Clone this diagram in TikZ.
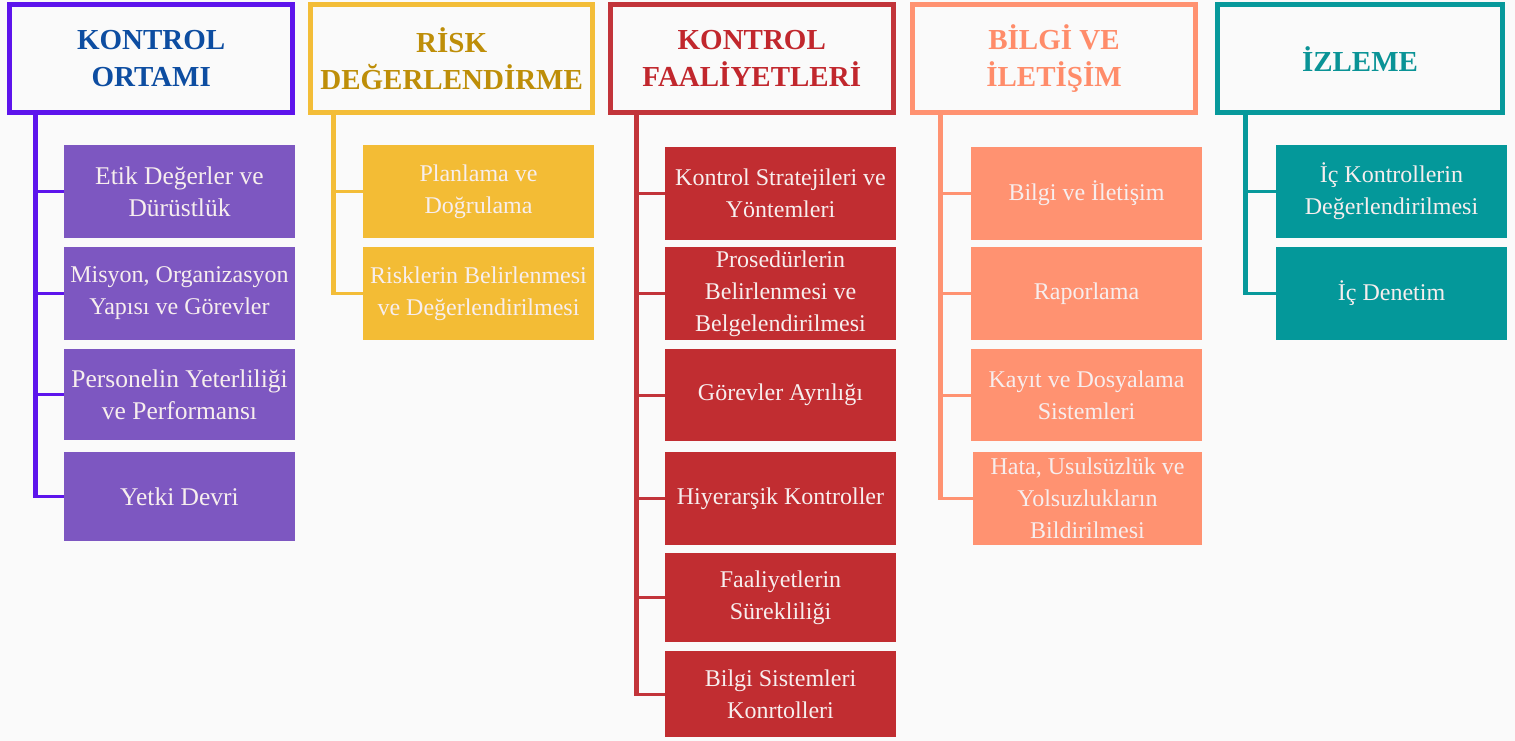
\documentclass[tikz,border=0pt]{standalone}
\usepackage{fontspec}
\setmainfont{Liberation Serif}
\definecolor{bg}{HTML}{FAFAFA}
\definecolor{pstroke}{HTML}{5D14EC}
\definecolor{ptext}{HTML}{0D4DA1}
\definecolor{pfill}{HTML}{7D57C1}
\definecolor{ystroke}{HTML}{F3BD38}
\definecolor{ytext}{HTML}{BE8E08}
\definecolor{yfill}{HTML}{F3BC35}
\definecolor{rstroke}{HTML}{C2343A}
\definecolor{rtext}{HTML}{C1272D}
\definecolor{rfill}{HTML}{C12D31}
\definecolor{sstroke}{HTML}{FF9271}
\definecolor{stext}{HTML}{FF8C6A}
\definecolor{sfill}{HTML}{FF9271}
\definecolor{tstroke}{HTML}{07999B}
\definecolor{ttext}{HTML}{0A9396}
\definecolor{tfill}{HTML}{04989A}
\definecolor{ctext}{HTML}{F7EEEE}
\tikzset{
  hdr/.style={draw, line width=5pt, fill=bg, inner sep=0pt, outer sep=0pt,
    align=center, font=\fontsize{29}{37}\selectfont\bfseries},
  child/.style={inner sep=0pt, outer sep=0pt, align=flush center, text=ctext,
    text width=231pt, font=\fontsize{24}{32}\selectfont},
  spine/.style={line width=5.5pt},
  conn/.style={line width=3pt}
}
\begin{document}
\begin{tikzpicture}[x=1pt,y=-1pt]
\fill[bg] (0,0) rectangle (1515,741);
\useasboundingbox (0,0) rectangle (1515,741);

% column 1
\node[hdr, draw=pstroke, text=ptext, minimum width=282.7pt, minimum height=107.5pt] (h1) at (151.15,58.75) {KONTROL\\ORTAMI};
\begin{scope}[every node/.style={child, fill=pfill, font=\fontsize{25.5}{32}\selectfont}]
\node[minimum height=93pt] (c11) at (179.5,191.5) {Etik Değerler ve\\Dürüstlük};
\node[minimum height=93pt, font=\fontsize{24}{32}\selectfont] (c12) at (179.5,293.5) {Misyon, Organizasyon\\Yapısı ve Görevler};
\node[minimum height=91pt] (c13) at (179.5,394.5) {Personelin Yeterliliği\\ve Performansı};
\node[minimum height=89pt] (c14) at (179.5,496.5) {Yetki Devri};
\end{scope}
\coordinate (s1) at (35.7,0);

% column 2
\node[hdr, draw=ystroke, text=ytext, minimum width=281.7pt, minimum height=107.5pt] (h2) at (451.65,58.75) {RİSK\\DEĞERLENDİRME};
\begin{scope}[every node/.style={child, fill=yfill}]
\node[minimum height=93pt] (c21) at (478.5,191.5) {Planlama ve\\Doğrulama};
\node[minimum height=93pt] (c22) at (478.5,293.5) {Risklerin Belirlenmesi\\ve Değerlendirilmesi};
\end{scope}
\coordinate (s2) at (333.5,0);

% column 3
\node[hdr, draw=rstroke, text=rtext, minimum width=282.5pt, minimum height=107.5pt] (h3) at (751.75,58.75) {KONTROL\\FAALİYETLERİ};
\begin{scope}[every node/.style={child, fill=rfill}]
\node[minimum height=93pt] (c31) at (780.5,193.5) {Kontrol Stratejileri ve\\Yöntemleri};
\node[minimum height=93pt] (c32) at (780.5,293.5) {Prosedürlerin\\Belirlenmesi ve\\Belgelendirilmesi};
\node[minimum height=92pt] (c33) at (780.5,395) {Görevler Ayrılığı};
\node[minimum height=93pt] (c34) at (780.5,498.5) {Hiyerarşik Kontroller};
\node[minimum height=89pt] (c35) at (780.5,597.5) {Faaliyetlerin\\Sürekliliği};
\node[minimum height=86pt] (c36) at (780.5,694) {Bilgi Sistemleri\\Konrtolleri};
\end{scope}
\coordinate (s3) at (636.5,0);

% column 4
\node[hdr, draw=sstroke, text=stext, minimum width=283pt, minimum height=107.5pt] (h4) at (1054,58.75) {BİLGİ VE\\İLETİŞİM};
\begin{scope}[every node/.style={child, fill=sfill}]
\node[minimum height=93pt] (c41) at (1086.5,193.5) {Bilgi ve İletişim};
\node[minimum height=93pt] (c42) at (1086.5,293.5) {Raporlama};
\node[minimum height=92pt] (c43) at (1086.5,395) {Kayıt ve Dosyalama\\Sistemleri};
\node[minimum height=93pt, text width=229pt] (c44) at (1087.5,498.5) {Hata, Usulsüzlük ve\\Yolsuzlukların\\Bildirilmesi};
\end{scope}
\coordinate (s4) at (940.5,0);

% column 5
\node[hdr, draw=tstroke, text=ttext, minimum width=285pt, minimum height=107.5pt] (h5) at (1360,58.75) {İZLEME};
\begin{scope}[every node/.style={child, fill=tfill}]
\node[minimum height=93pt] (c51) at (1391.5,191.5) {İç Kontrollerin\\Değerlendirilmesi};
\node[minimum height=93pt] (c52) at (1391.5,293.5) {İç Denetim};
\end{scope}
\coordinate (s5) at (1245.5,0);

% spines
\draw[spine, pstroke] (h1.south -| s1) -- ([yshift=-1.5pt]c14.west -| s1);
\draw[spine, ystroke] (h2.south -| s2) -- ([yshift=-1.5pt]c22.west -| s2);
\draw[spine, rstroke] (h3.south -| s3) -- ([yshift=-1.5pt]c36.west -| s3);
\draw[spine, sstroke] (h4.south -| s4) -- ([yshift=-1.5pt]c44.west -| s4);
\draw[spine, tstroke] (h5.south -| s5) -- ([yshift=-1.5pt]c52.west -| s5);

% connectors
\foreach \c in {c11,c12,c13,c14} \draw[conn, pstroke] (s1 |- \c.west) -- (\c.west);
\foreach \c in {c21,c22} \draw[conn, ystroke] (s2 |- \c.west) -- (\c.west);
\foreach \c in {c31,c32,c33,c34,c35,c36} \draw[conn, rstroke] (s3 |- \c.west) -- (\c.west);
\foreach \c in {c41,c42,c43,c44} \draw[conn, sstroke] (s4 |- \c.west) -- (\c.west);
\foreach \c in {c51,c52} \draw[conn, tstroke] (s5 |- \c.west) -- (\c.west);
\end{tikzpicture}
\end{document}
